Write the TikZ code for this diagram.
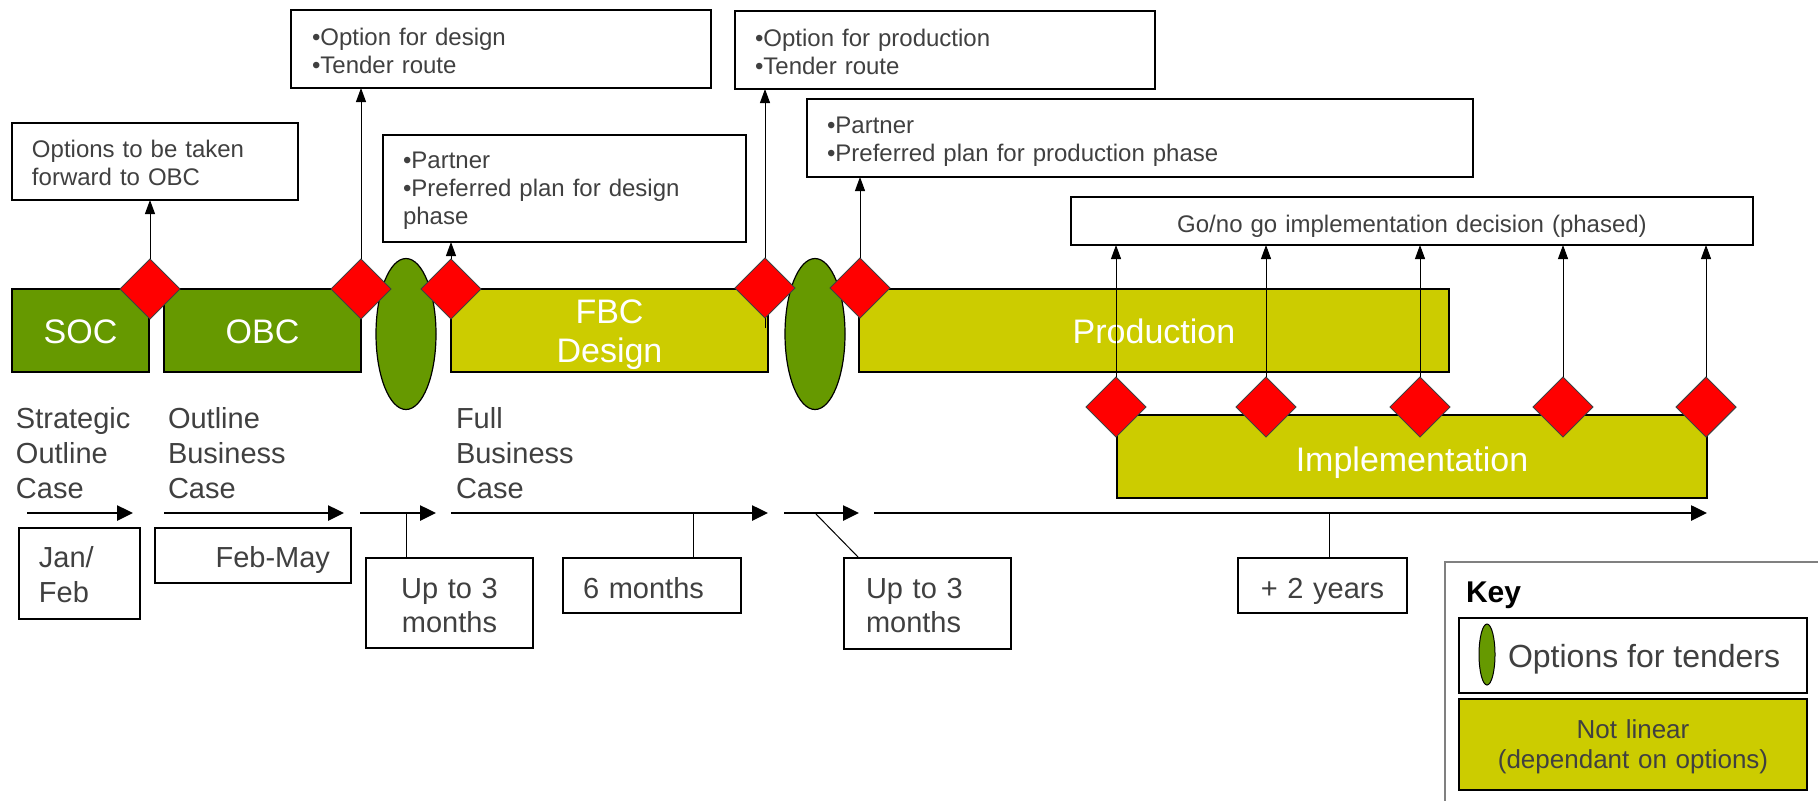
\documentclass[tikz,border=0pt]{standalone}
\usepackage{fontspec}
\setmainfont{Liberation Sans}
\usetikzlibrary{arrows.meta,shapes.geometric}
\definecolor{dgreen}{RGB}{102,153,0}
\definecolor{ygreen}{RGB}{204,204,0}
\definecolor{txt}{RGB}{64,64,64}
\definecolor{keygray}{RGB}{128,128,128}
\begin{document}
\begin{tikzpicture}[x=0.5pt,y=-0.5pt,
  every node/.style={inner sep=0pt,outer sep=0pt},
  infobox/.style={draw=black,line width=0.8pt,fill=white,anchor=north west,
    font=\fontsize{12}{14}\selectfont,text=txt,align=left},
  tlbox/.style={draw=black,line width=0.8pt,fill=white,anchor=north west,
    font=\fontsize{14.5}{17}\selectfont,text=txt},
  bar/.style={draw=black,line width=0.9pt,anchor=north west,
    text=white,font=\fontsize{17}{19.5}\selectfont,align=center},
  gate/.style={shape=diamond,draw=black!75,line width=0.5pt,fill=red,
    minimum width=30pt,minimum height=30pt},
  tender/.style={shape=ellipse,draw=black,line width=0.6pt,fill=dgreen,
    minimum width=30pt,minimum height=75.5pt},
  uparrow/.style={draw=black,line width=0.5pt,-{Triangle[length=7pt,width=5pt]}},
  tlarrow/.style={draw=black,line width=1.3pt,-{Triangle[length=8pt,width=7.5pt]}},
  tick/.style={draw=black,line width=0.5pt},
  caselabel/.style={anchor=base west,align=left,text width=60pt,text=txt,
    font=\fontsize{14.5}{17.5}\selectfont}]

\fill[white] (0,0) rectangle (1818,800);
\useasboundingbox (0,0) rectangle (1818,800);

% info boxes
\node[infobox,text width=123pt,inner xsep=10pt,text height=17pt,text depth=21.5pt] (b1) at (12,123)
  {Options to be taken\\forward to OBC};
\node[infobox,text width=189pt,inner xsep=10.5pt,text height=17.75pt,text depth=21.25pt] (b2) at (291,10)
  {•Option for design\\•Tender route};
\node[infobox,text width=161.5pt,inner xsep=10pt,text height=16.5pt,text depth=37pt] (b3) at (383,135)
  {•Partner\\•Preferred plan for design\\phase};
\node[infobox,text width=190pt,inner xsep=10pt,text height=17.75pt,text depth=21.25pt] (b4) at (735,11)
  {•Option for production\\•Tender route};
\node[infobox,text width=313pt,inner xsep=10pt,text height=17.25pt,text depth=21.75pt] (b5) at (807,99)
  {•Partner\\•Preferred plan for production phase};
\node[infobox,align=center,text width=341pt,text height=17.5pt,text depth=6.5pt] (go) at (1071,197)
  {Go/no go implementation decision (phased)};

% phase bars
\node[bar,fill=dgreen,text width=68.5pt,text height=27pt,text depth=14.5pt] (soc) at (12,289) {SOC};
\node[bar,fill=dgreen,text width=98.5pt,text height=27pt,text depth=14.5pt] (obc) at (164,289) {OBC};
\node[bar,fill=ygreen,text width=158.5pt,text height=17pt,text depth=24.5pt] (fbc) at (451,289) {FBC\\Design};
\node[bar,fill=ygreen,text width=295pt,text height=27pt,text depth=14.5pt] (prod) at (859,289) {Production};
\node[bar,fill=ygreen,text width=295pt,text height=28pt,text depth=13.5pt] (impl) at (1117,415) {Implementation};

% tender ellipses
\node[tender] (e1) at (406,334) {};
\node[tender] (e2) at (815,334) {};

% gates
\coordinate (d4low) at (765,328);
\draw[uparrow] (d4low) -- (b4.south -| d4low);
\node[gate] (d1) at (150,289) {};
\node[gate] (d2) at (361,289) {};
\node[gate] (d3) at (451,289) {};
\node[gate] (d4) at (765,288) {};
\node[gate] (d5) at (860,288) {};
\draw[uparrow] (d1.north) -- (b1.south -| d1.north);
\draw[uparrow] (d2.north) -- (b2.south -| d2.north);
\draw[uparrow] (d3.north) -- (b3.south -| d3.north);
\draw[uparrow] (d5.north) -- (b5.south -| d5.north);

\foreach \i/\x in {1/1116,2/1266,3/1420,4/1563,5/1706}{
  \node[gate] (i\i) at (\x,407) {};
  \draw[uparrow] (i\i.north) -- (go.south -| i\i.north);
}

% case labels
\node[caselabel] (lsoc) at (16,428) {Strategic\\Outline\\Case};
\node[caselabel] (lobc) at (168,428) {Outline\\Business\\Case};
\node[caselabel] (lfbc) at (456,428) {Full\\Business\\Case};

% timeline arrows
\coordinate (t1s) at (27,513);  \coordinate (t1e) at (133,513);
\coordinate (t2s) at (164,513); \coordinate (t2e) at (344,513);
\coordinate (t3s) at (360,513); \coordinate (t3e) at (436,513);
\coordinate (t4s) at (451,513); \coordinate (t4e) at (768,513);
\coordinate (t5s) at (784,513); \coordinate (t5e) at (859,513);
\coordinate (t6s) at (874,513); \coordinate (t6e) at (1707,513);
\draw[tlarrow] (t1s) -- (t1e);
\draw[tlarrow] (t2s) -- (t2e);
\draw[tlarrow] (t3s) -- (t3e);
\draw[tlarrow] (t4s) -- (t4e);
\draw[tlarrow] (t5s) -- (t5e);
\draw[tlarrow] (t6s) -- (t6e);

% timeline boxes
\node[tlbox,align=left,text width=40.5pt,inner xsep=10pt,text height=19.5pt,text depth=26pt,
  font=\fontsize{14.5}{17.5}\selectfont] (jf) at (19,528) {Jan/\\Feb};
\node[tlbox,align=right,text width=77pt,inner xsep=10.5pt,text height=19.5pt,text depth=8pt] (fm) at (155,528) {Feb-May};
\node[tlbox,align=center,text width=83.5pt,text height=20pt,text depth=25pt] (u1) at (366,558) {Up to 3\\months};
\node[tlbox,align=left,text width=69pt,inner xsep=10pt,text height=20pt,text depth=7.5pt] (m6) at (563,558) {6 months};
\node[tlbox,align=left,text width=61.5pt,inner xsep=11pt,text height=20pt,text depth=25.5pt] (u2) at (844,558) {Up to 3\\months};
\node[tlbox,align=center,text width=84.5pt,text height=20pt,text depth=7.5pt] (y2) at (1238,558) {+ 2 years};

\coordinate (c1) at (406,513);
\coordinate (c2) at (693,513);
\coordinate (c3) at (815,513);
\coordinate (c4) at (1329,513);
\draw[tick] (c1) -- (c1 |- u1.north);
\draw[tick] (c2) -- (c2 |- m6.north);
\draw[tick] (c3) -- ([xshift=7.5pt]u2.north west);
\draw[tick] (c4) -- (c4 |- y2.north);

% key
\node[draw=keygray,line width=1pt,anchor=north west,minimum width=192.5pt,minimum height=124pt] (key) at (1445,562) {};
\node[anchor=base west,font=\fontsize{15}{18}\selectfont\bfseries,text=black] (keyt) at (1466,602) {Key};
\node[draw=black,line width=0.8pt,fill=white,anchor=north west,minimum width=174pt,minimum height=37.5pt] (k1) at (1459,618) {};
\node[shape=ellipse,draw=black,line width=0.5pt,fill=dgreen,minimum width=8pt,minimum height=30.5pt] (ke) at (1487,654.5) {};
\node[anchor=base west,text=txt,font=\fontsize{16}{19}\selectfont] (kt) at (1508,667) {Options for tenders};
\node[draw=black,line width=0.8pt,fill=ygreen,anchor=north west,text width=174pt,text height=19.5pt,text depth=26pt,
  align=center,text=txt,font=\fontsize{13}{15}\selectfont] (k2) at (1459,699) {Not linear\\(dependant on options)};
\end{tikzpicture}
\end{document}
